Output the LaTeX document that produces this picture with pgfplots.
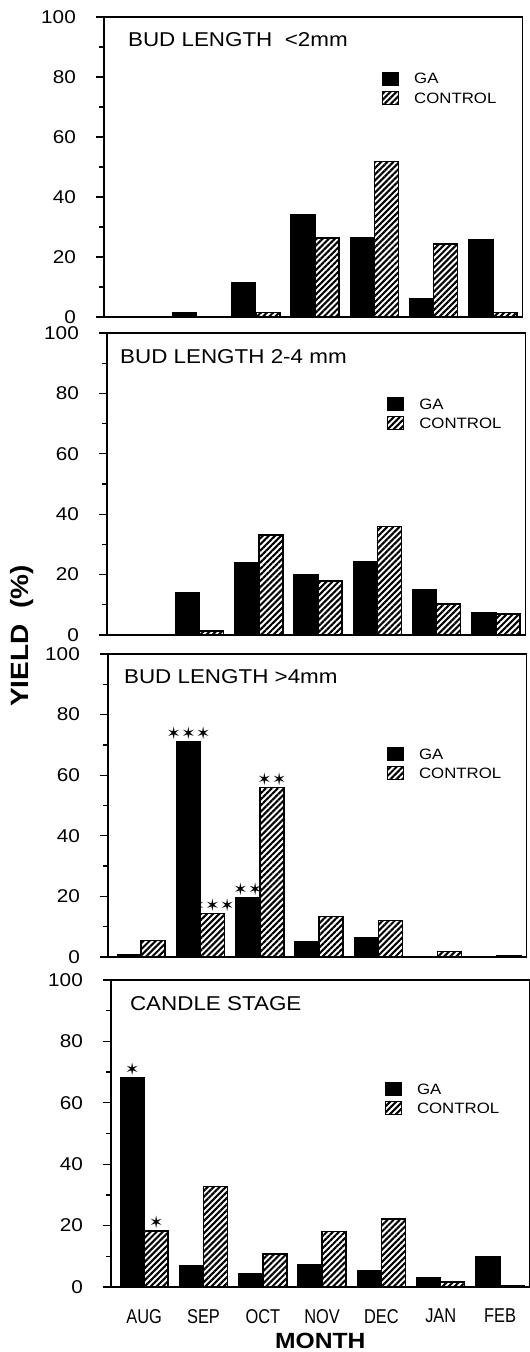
\documentclass[border=0pt]{standalone}
\usepackage{fontspec}
\setmainfont[FakeStretch=1.12]{Liberation Sans}
\newfontfamily\condfont[FakeStretch=0.82]{Liberation Sans}
\newfontfamily\symfont{DejaVu Sans}
\usepackage{pgfplots}
\pgfplotsset{compat=1.18}
\usetikzlibrary{patterns.meta}

\pgfplotsset{
  mylegimg/.style={legend image code/.code={\draw[##1,line width=1.2pt] (0pt,-6pt) rectangle (16pt,7pt);}},
  gabar/.style={ybar, bar width=24pt, bar shift=-12pt, fill=black, draw=black, line width=1.3pt, mylegimg},
  ctbar/.style={ybar, bar width=24pt, bar shift=12pt, draw=black, line width=1.5pt,
    pattern={Lines[angle=45,distance=4.3pt,line width=2.1pt]}, mylegimg},
  starnodes/.style={nodes near coords, point meta=explicit symbolic,
    every node near coord/.append style={font=\symfont\fontsize{17}{17}\selectfont, anchor=south, inner sep=0pt, yshift=1pt, xshift=#1}},
  panel/.style={
    scale only axis, width=418.7pt, anchor=south west,
    xmin=-0.56, xmax=6.5, ymin=0, ymax=100,
    axis line style={line width=1.5pt},
    xtick=\empty, minor xtick={0.5,1.5,2.5,3.5,4.5,5.5},
    ytick={0,20,...,100}, minor ytick={10,30,50,70,90},
    xtick pos=bottom, ytick pos=left,
    tick align=outside,
    major tick length=8pt, minor tick length=5pt,
    every tick/.style={black, line width=1.3pt},
    tick label style={font=\fontsize{18.5}{18.5}\selectfont},
    yticklabel style={inner sep=0pt, xshift=-20pt},
    /pgf/number format/assume math mode=true,
    legend style={draw=none, fill=none, anchor=north west, inner sep=0pt, outer sep=0pt,
      row sep=5pt, column sep=15pt, font=\fontsize{15}{15}\selectfont, nodes={inner sep=0pt}},
    legend cell align=left,
    clip=false,
  }
}
\tikzset{ptitle/.style={anchor=base west, inner sep=0pt, font=\fontsize{20}{20}\selectfont}}

\begin{document}
\begin{tikzpicture}[x=1pt,y=1pt]
\path[use as bounding box] (0,0) rectangle (530,1352);

% Panel 1: bud length < 2 mm
\begin{axis}[panel, at={(104pt,1035pt)}, height=300pt,
  legend style={at={(0.664,0.817)}}]
\addplot[gabar] coordinates {(0,0) (1,1.3) (2,11.3) (3,34.1) (4,26.4) (5,6.1) (6,25.8)};
\addlegendentry{GA}
\addplot[ctbar] coordinates {(0,0) (1,0) (2,1.5) (3,26.4) (4,51.8) (5,24.4) (6,1.5)};
\addlegendentry{CONTROL}
\node[ptitle] at (rel axis cs:0.057,0.9) {BUD LENGTH\ \ <2mm};
\end{axis}

% Panel 2: bud length 2-4 mm
\begin{axis}[panel, at={(107pt,717pt)}, height=302pt,
  legend style={at={(0.669,0.788)}},
  ylabel={YIELD\ \ (\%)},
  ylabel style={font=\bfseries\fontsize{25}{25}\selectfont, at={(axis description cs:-0.203,-0.003)}, anchor=center}]
\addplot[gabar] coordinates {(0,0) (1,14.1) (2,24.1) (3,19.9) (4,24.3) (5,14.9) (6,7.4)};
\addlegendentry{GA}
\addplot[ctbar] coordinates {(0,0) (1,1.4) (2,33.1) (3,17.9) (4,36.0) (5,10.2) (6,6.9)};
\addlegendentry{CONTROL}
\node[ptitle] at (rel axis cs:0.031,0.9) {BUD LENGTH 2-4 mm};
\end{axis}

% Panel 3: bud length > 4 mm
\begin{axis}[panel, at={(108pt,395pt)}, height=303pt,
  legend style={at={(0.666,0.693)}}]
\addplot[gabar, starnodes=-12pt] coordinates {(0,0.8) [{}] (1,71.0) [✶\kern0.5pt✶\kern0.5pt✶] (2,19.6) [✶\kern0.5pt✶] (3,5.0) [{}] (4,6.4) [{}] (5,0) [{}] (6,0) [{}]};
\addlegendentry{GA}
\addplot[ctbar, starnodes=12pt] coordinates {(0,5.5) [{}] (1,14.3) [✶\kern0.5pt✶\kern0.5pt✶] (2,55.9) [✶\kern0.5pt✶] (3,13.4) [{}] (4,12.1) [{}] (5,1.8) [{}] (6,0.3) [{}]};
\addlegendentry{CONTROL}
\node[ptitle] at (rel axis cs:0.038,0.904) {BUD LENGTH >4mm};
\end{axis}

% Panel 4: candle stage
\begin{axis}[panel, at={(111pt,65pt)}, height=307pt,
  legend style={at={(0.654,0.668)}},
  extra x ticks={0,1,2,3,4,5,6},
  extra x tick labels={AUG,SEP,OCT,NOV,DEC,JAN,FEB},
  extra x tick style={major tick length=0pt,
    tick label style={font=\condfont\fontsize{20}{20}\selectfont, inner sep=0pt, yshift=-22pt}},
  xlabel={MONTH},
  xlabel style={font=\bfseries\fontsize{22}{22}\selectfont, at={(axis description cs:0.5,0)}, anchor=base, yshift=-61pt}]
\addplot[gabar, starnodes=-12pt] coordinates {(0,68.2) [✶] (1,6.9) [{}] (2,4.3) [{}] (3,7.3) [{}] (4,5.3) [{}] (5,2.9) [{}] (6,10.0) [{}]};
\addlegendentry{GA}
\addplot[ctbar, starnodes=12pt] coordinates {(0,18.3) [✶] (1,32.8) [{}] (2,10.8) [{}] (3,18.1) [{}] (4,22.2) [{}] (5,1.6) [{}] (6,0.4) [{}]};
\addlegendentry{CONTROL}
\node[ptitle] at (rel axis cs:0.045,0.902) {CANDLE STAGE};
\end{axis}
\end{tikzpicture}
\end{document}
